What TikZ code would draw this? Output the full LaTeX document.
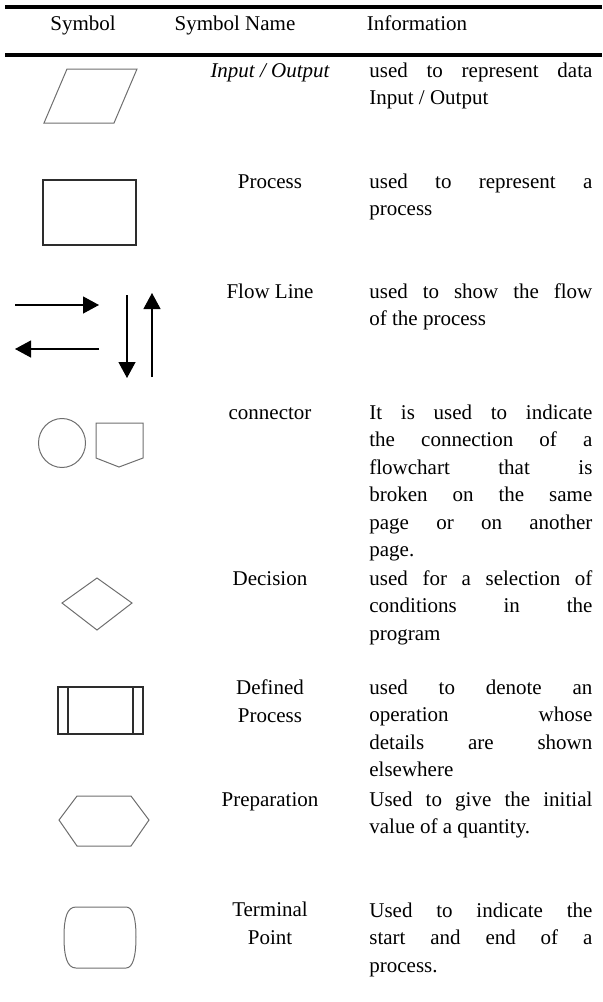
\documentclass[tikz,border=0pt]{standalone}
\usepackage{fontspec}
\setmainfont{Liberation Serif}
\usepackage{xcolor}
\usetikzlibrary{arrows.meta,positioning}
\definecolor{symgray}{RGB}{110,110,110}
\definecolor{symdark}{RGB}{45,45,45}

\begin{document}
\begin{tikzpicture}[x=0.5pt,y=-0.5pt,
  txt/.style={inner sep=0pt,font=\fontsize{10.5}{13.75}\selectfont},
  hdr/.style={txt,anchor=base},
  sname/.style={txt,anchor=base,align=center},
  info/.style={txt,anchor=base west,text width=111.5pt,align=justify,
               execute at begin node={\tolerance=10000\hyphenpenalty=10000}},
  rule/.style={line width=1.6pt},
  symg/.style={draw=symgray,line width=0.5pt},
  symd/.style={draw=symdark,line width=0.6pt},
  flow/.style={line width=0.6pt,-{Triangle[length=8pt,width=8.5pt]}}
]
\useasboundingbox (0,0) rectangle (602,1002);
\def\xname{270}\def\xinfo{369}
\draw[rule] (5,7) -- (602,7);
\draw[rule] (5,55) -- (602,55);
\node[hdr] (hsym)  at (83,30)  {Symbol};
\node[hdr] (hname) at (235,30) {Symbol Name};
\node[hdr] (hinfo) at (417,30) {Information};
% names
\node[sname] (n1) at (\xname,77)  {\itshape Input / Output};
\node[sname] (n2) at (\xname,188) {Process};
\node[sname] (n3) at (\xname,298) {Flow Line};
\node[sname] (n4) at (\xname,419) {connector};
\node[sname] (n5) at (\xname,585) {Decision};
\node[sname] (n6) at (\xname,722) {Defined\\Process};
\node[sname] (n7) at (\xname,806) {Preparation};
\node[sname] (n8) at (\xname,944) {Terminal\\Point};
% information
\node[info] (d1) at (\xinfo,77)  {used to represent data\linebreak Input / Output};
\node[info] (d2) at (\xinfo,188) {used to represent a\linebreak process};
\node[info] (d3) at (\xinfo,298) {used to show the flow\linebreak of the process};
\node[info] (d4) at (\xinfo,419) {It is used to indicate\linebreak the connection of a\linebreak flowchart that is\linebreak broken on the same\linebreak page or on another\linebreak page.};
\node[info] (d5) at (\xinfo,585) {used for a selection of\linebreak conditions in the\linebreak program};
\node[info] (d6) at (\xinfo,694) {used to denote an\linebreak operation whose\linebreak details are shown\linebreak elsewhere};
\node[info] (d7) at (\xinfo,806) {Used to give the initial\linebreak value of a quantity.};
\node[info] (d8) at (\xinfo,917) {Used to indicate the\linebreak start and end of a\linebreak process.};
% symbols
\draw[symg] (67,69) -- (137,69) -- (114,123) -- (44,123) -- cycle;
\draw[symd] (43,180) rectangle (136,245);
\coordinate (ra) at (15,305);  \coordinate (rb) at (99,305);
\coordinate (la) at (99,349);  \coordinate (lb) at (15,349);
\coordinate (da) at (127,295); \coordinate (db) at (127,378);
\coordinate (ua) at (152,377); \coordinate (ub) at (152,293);
\foreach \s/\d in {ra/rb,la/lb,da/db,ua/ub}
  \draw[flow] (\s) -- (\d);
\draw[symg] (62,443) ellipse (23.5 and 24.5);
\draw[symg] (96,423) -- (143,423) -- (143,458) -- (119,467) -- (96,458) -- cycle;
\draw[symg] (62,603) -- (97,578) -- (132,603) -- (97,630) -- cycle;
\draw[symd] (58,687) rectangle (143,734);
\draw[symd] (68,687) -- (68,734) (133,687) -- (133,734);
\draw[symg] (59,820) -- (77,796) -- (131,796) -- (149,820) -- (131,846) -- (77,846) -- cycle;
\draw[symg] (76,907) -- (126,907) .. controls (133,907) and (136,918) .. (136,937)
  .. controls (136,956) and (133,968) .. (126,968) -- (76,968)
  .. controls (67,968) and (64,956) .. (64,937) .. controls (64,918) and (67,907) .. (76,907) -- cycle;
\end{tikzpicture}
\end{document}
